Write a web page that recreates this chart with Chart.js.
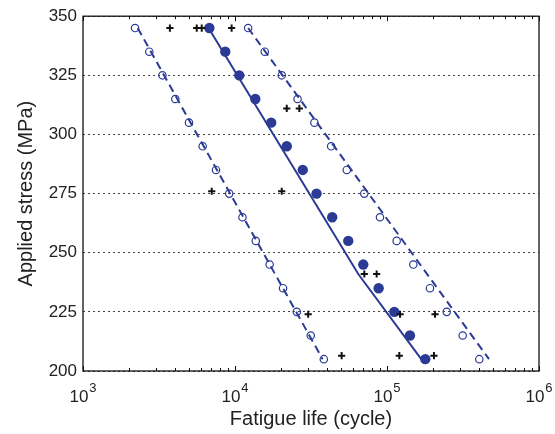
<!DOCTYPE html>
<html>
<head>
<meta charset="utf-8">
<script src="https://cdn.jsdelivr.net/npm/chart.js@4/dist/chart.umd.min.js"></script>
<style>
  html, body { margin: 0; padding: 0; background: #fff; }
  #wrap { width: 555px; height: 434px; position: relative; }
</style>
</head>
<body>
<div id="wrap"><canvas id="fatigue_chart"></canvas></div>
<script>
// stress levels (MPa) shared by the three scatter series
let stressLevels = [345, 335, 325, 315, 305, 295, 285, 275, 265, 255, 245, 235, 225, 215, 205];

// fatigue life (cycles)
let lowerLife = [2200, 2730, 3330, 4050, 4980, 6130, 7500, 9160, 11200, 13700, 16900, 20700, 25500, 31500, 38400];
let meanLife = [6780, 8630, 10670, 13600, 17300, 21900, 27900, 34400, 43600, 55600, 69800, 88100, 111700, 141600, 178600];
let upperLife = [12200, 15700, 20300, 25800, 33300, 42900, 54400, 70900, 89900, 115800, 149000, 191700, 247000, 314700, 404700];

// test results (+ markers)
let testLife = [3730, 5600, 6040, 9500, 21900, 26500, 7030, 20300, 70900, 85500, 30300, 121900, 207000, 50300, 120500, 203700];
let testStress = [345, 345, 345, 345, 311, 311, 276, 276, 241, 241, 224, 224, 224, 206.5, 206.5, 206.5];

// fitted lines
let lowerFitLife = [2290, 37700];
let lowerFitStress = [345, 205];
let meanFitLife = [6700, 64700, 168000];
let meanFitStress = [345, 241, 205];
let upperFitLife = [12200, 469000];
let upperFitStress = [345, 205];

let yTicks = [200, 225, 250, 275, 300, 325, 350];
let xDecades = [1e3, 1e4, 1e5, 1e6];
let xExponents = ['3', '4', '5', '6'];

const blue = '#2b3a95';
const fontFamily = '"Liberation Sans", Arial, Helvetica, sans-serif';

function toPoints(xs, ys) {
    let pts = [];
    xs.forEach(function(x, i) {
        pts.push({x: x, y: ys[i]});
    });
    return pts;
}

// box round the plot, inward tick marks and 10^n labels on the log axis
const boxPlugin = {
    id: 'boxPlugin',
    afterDraw: function(chart) {
        let ctx = chart.ctx;
        let area = chart.chartArea;
        let xs = chart.scales.x;
        ctx.save();
        ctx.setLineDash([]);
        ctx.strokeStyle = '#111';
        ctx.lineWidth = 1;
        xDecades.forEach(function(dec) {
            for (let m = 1; m <= 9; m++) {
                let v = dec * m;
                if (v > 1e6) break;
                let px = Math.round(xs.getPixelForValue(v)) + 0.5;
                let len = (m === 1) ? 5 : 3;
                ctx.beginPath();
                ctx.moveTo(px, area.bottom);
                ctx.lineTo(px, area.bottom - len);
                ctx.moveTo(px, area.top);
                ctx.lineTo(px, area.top + len);
                ctx.stroke();
            }
        });
        ctx.lineWidth = 1.3;
        ctx.strokeRect(area.left, area.top, area.right - area.left, area.bottom - area.top);

        // tick labels with a raised exponent
        ctx.fillStyle = '#222';
        ctx.textBaseline = 'alphabetic';
        ctx.textAlign = 'left';
        xDecades.forEach(function(dec, k) {
            let px = xs.getPixelForValue(dec);
            ctx.font = '17px ' + fontFamily;
            let w1 = ctx.measureText('10').width;
            ctx.font = '13px ' + fontFamily;
            let w2 = ctx.measureText(xExponents[k]).width;
            let x0 = px - (w1 + w2 + 1) / 2;
            ctx.font = '17px ' + fontFamily;
            ctx.fillText('10', x0, area.bottom + 31);
            ctx.font = '13px ' + fontFamily;
            ctx.fillText(xExponents[k], x0 + w1 + 1, area.bottom + 21);
        });
        ctx.restore();
    }
};

let datasets = [
    {
        label: 'lower fit',
        data: toPoints(lowerFitLife, lowerFitStress),
        showLine: true,
        borderColor: blue,
        borderWidth: 2,
        borderDash: [8, 5],
        pointRadius: 0,
        order: 5
    },
    {
        label: 'mean fit',
        data: toPoints(meanFitLife, meanFitStress),
        showLine: true,
        borderColor: blue,
        borderWidth: 2,
        pointRadius: 0,
        order: 5
    },
    {
        label: 'upper fit',
        data: toPoints(upperFitLife, upperFitStress),
        showLine: true,
        borderColor: blue,
        borderWidth: 2,
        borderDash: [8, 5],
        pointRadius: 0,
        order: 5
    },
    {
        label: 'lower',
        data: toPoints(lowerLife, stressLevels),
        pointStyle: 'circle',
        pointRadius: 3.7,
        borderColor: blue,
        backgroundColor: 'rgba(0,0,0,0)',
        borderWidth: 1.2,
        order: 3
    },
    {
        label: 'upper',
        data: toPoints(upperLife, stressLevels),
        pointStyle: 'circle',
        pointRadius: 3.7,
        borderColor: blue,
        backgroundColor: 'rgba(0,0,0,0)',
        borderWidth: 1.2,
        order: 3
    },
    {
        label: 'mean',
        data: toPoints(meanLife, stressLevels),
        pointStyle: 'circle',
        pointRadius: 5.2,
        borderColor: blue,
        backgroundColor: blue,
        borderWidth: 0,
        order: 2
    },
    {
        label: 'test',
        data: toPoints(testLife, testStress),
        pointStyle: 'cross',
        pointRadius: 3.6,
        borderColor: '#111',
        borderWidth: 2,
        order: 1
    }
];

let config = {
    type: 'scatter',
    data: {datasets: datasets},
    plugins: [boxPlugin],
    options: {
        responsive: true,
        maintainAspectRatio: false,
        animation: false,
        layout: {padding: {top: 14, right: 16, left: 0, bottom: 0}},
        plugins: {
            legend: {display: false},
            tooltip: {enabled: false}
        },
        scales: {
            x: {
                type: 'logarithmic',
                min: 1000,
                max: 1000000,
                afterFit: function(scale) { scale.height = 63; },
                grid: {display: false, drawTicks: false},
                border: {display: false},
                ticks: {display: false},
                title: {
                    display: true,
                    text: 'Fatigue life (cycle)',
                    color: '#222',
                    font: {family: fontFamily, size: 20},
                    padding: {top: 0, bottom: 3}
                }
            },
            y: {
                min: 200,
                max: 350,
                afterFit: function(scale) { scale.width = 83; },
                afterBuildTicks: function(scale) {
                    scale.ticks = yTicks.map(function(v) { return {value: v}; });
                },
                grid: {
                    color: '#444',
                    lineWidth: 1,
                    drawTicks: false
                },
                border: {display: false, dash: [2, 3]},
                ticks: {
                    padding: 6,
                    color: '#222',
                    font: {family: fontFamily, size: 17}
                },
                title: {
                    display: true,
                    text: 'Applied stress (MPa)',
                    color: '#222',
                    font: {family: fontFamily, size: 20},
                    padding: {top: 14, bottom: 0}
                }
            }
        }
    }
};

let fatigueChart = new Chart(document.getElementById('fatigue_chart'), config);
</script>
</body>
</html>
